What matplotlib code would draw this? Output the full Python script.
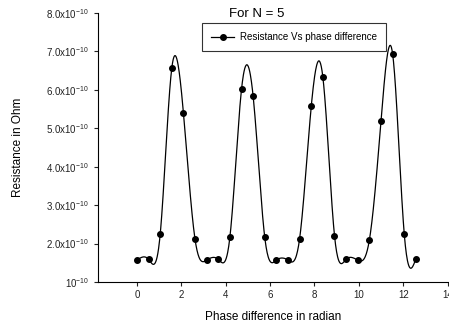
import matplotlib
matplotlib.use('Agg')
import matplotlib.pyplot as plt
import numpy as np

plt.rcParams['font.family'] = ['Liberation Sans', 'DejaVu Sans']
plt.rcParams['mathtext.default'] = 'regular'

# Phase difference samples (step pi/6) and resistance (units of 1e-10 Ohm)
phase = np.arange(25) * np.pi / 6
resistance = [1.57, 1.59, 2.24, 6.57, 5.40, 2.11,
              1.57, 1.59, 2.17, 6.02, 5.83, 2.16,
              1.57, 1.57, 2.13, 5.57, 6.33, 2.21,
              1.59, 1.57, 2.09, 5.18, 6.94, 2.26,
              1.60]

y_ticks = [1, 2, 3, 4, 5, 6, 7, 8]
y_tick_labels = [r'10$^{-10}$'] + [r'%.1fx10$^{-10}$' % v for v in y_ticks[1:]]
x_ticks = [0, 2, 4, 6, 8, 10, 12, 14]


def natural_spline(x, y, xs):
    # natural cubic spline through (x, y), evaluated at xs
    x = np.asarray(x, float)
    y = np.asarray(y, float)
    n = len(x)
    h = np.diff(x)
    A = np.zeros((n, n))
    b = np.zeros(n)
    A[0, 0] = A[-1, -1] = 1
    for i in range(1, n - 1):
        A[i, i - 1] = h[i - 1]
        A[i, i] = 2 * (h[i - 1] + h[i])
        A[i, i + 1] = h[i]
        b[i] = 3 * ((y[i + 1] - y[i]) / h[i] - (y[i] - y[i - 1]) / h[i - 1])
    c = np.linalg.solve(A, b)
    idx = np.clip(np.searchsorted(x, xs) - 1, 0, n - 2)
    dx = xs - x[idx]
    bb = (y[idx + 1] - y[idx]) / h[idx] - h[idx] * (2 * c[idx] + c[idx + 1]) / 3
    d = (c[idx + 1] - c[idx]) / (3 * h[idx])
    return y[idx] + bb * dx + c[idx] * dx ** 2 + d * dx ** 3


xs = np.linspace(phase[0], phase[-1], 800)
ys = natural_spline(phase, resistance, xs)

fig = plt.figure(figsize=(4.49, 3.26), dpi=100)
ax = fig.add_axes([0.218, 0.135, 0.779, 0.825])

ax.plot(xs, ys, color='black', lw=0.9)
ax.plot(phase, resistance, 'o', color='black', ms=4)
# legend proxy: line with marker
ax.plot([], [], '-o', color='black', ms=4, lw=0.9, label='Resistance Vs phase difference')

ax.set_xlim(-1.76, 14.0)
ax.set_ylim(1, 8)
ax.set_xticks(x_ticks)
ax.set_yticks(y_ticks)
ax.set_yticklabels(y_tick_labels)
ax.tick_params(labelsize=7, length=3, width=0.8, direction='out', colors='#222222', labelcolor='#222222')
ax.tick_params(axis='x', pad=3)
ax.spines['top'].set_visible(False)
ax.spines['right'].set_visible(False)

ax.set_xlabel('Phase difference in radian', fontsize=8.5, labelpad=8)
ax.set_ylabel('Resistance in Ohm', fontsize=8.5, labelpad=16)
fig.text(0.572, 0.957, 'For N = 5', fontsize=9.5, ha='center', va='center')

leg = ax.legend(loc='upper left', bbox_to_anchor=(0.297, 0.963), borderaxespad=0,
                fontsize=7, frameon=True, fancybox=False, edgecolor='black',
                handlelength=2.4, handletextpad=0.6, borderpad=0.95)
leg.get_frame().set_linewidth(0.8)

plt.savefig('out.png', dpi=100)
plt.close(fig)
